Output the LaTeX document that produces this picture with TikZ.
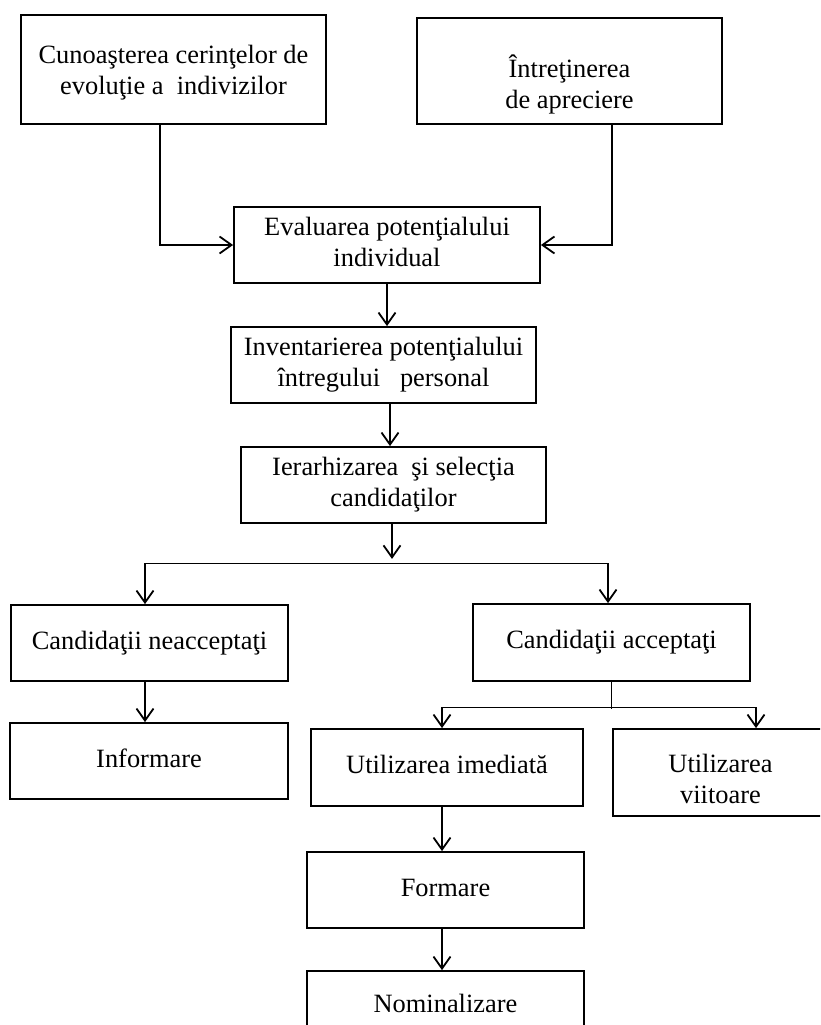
\documentclass[tikz,border=0pt]{standalone}
\usepackage{fontspec}
\setmainfont{Liberation Serif}
\usetikzlibrary{arrows.meta,calc}
\newcommand\liftline[1]{\rule{0pt}{#1}}
\newcommand\sinkline[1]{\rule[-#1]{0pt}{#1}}
\begin{document}
\begin{tikzpicture}[x=1pt,y=-1pt,
  box/.style={draw, line width=1.8pt, rectangle, inner sep=0pt, align=center,
    font=\fontsize{26.4}{31}\selectfont},
  wide/.style={minimum width=305pt, minimum height=76pt},
  mid/.style={minimum width=277pt, minimum height=76pt},
  arr/.style={line width=1.8pt, -{Straight Barb[length=12pt,width=17pt]}},
  thinline/.style={line width=1pt}]
\useasboundingbox (0,0) rectangle (820,1025);
\clip (0,0) rectangle (820,1025);

% boxes
\node[box, wide, minimum height=109pt] (A) at (173.5,69.5)
  {\liftline{27.3pt}Cunoaşterea cerinţelor de\strut\\evoluţie a~ indivizilor\strut};
\node[box, wide, minimum height=106pt] (B) at (569.5,71)
  {\liftline{52.3pt}Întreţinerea\strut\\de apreciere\strut};
\node[box, wide, minimum width=306pt] (C) at (387,245)
  {Evaluarea potenţialului\strut\\individual\strut};
\node[box, wide] (D) at (383.5,365)
  {Inventarierea potenţialului\strut\\întregului~~ personal\strut};
\node[box, wide] (E) at (393.5,485)
  {Ierarhizarea~ şi selecţia\strut\\candidaţilor\strut};
\node[box, mid] (F) at (149.5,643) {Candidaţii neacceptaţi\strut};
\node[box, mid, minimum height=77pt] (G) at (611.5,642.5) {Candidaţii acceptaţi\strut};
\node[box, mid, minimum width=278pt] (H) at (149,761) {Informare\strut};
\node[box, mid, minimum width=272pt, minimum height=77pt] (I) at (447,767.5) {Utilizarea imediată\strut};
\node[box, minimum width=215pt, minimum height=87pt] (J) at (720.5,772.5)
  {\liftline{39.3pt}Utilizarea\strut\\viitoare\strut};
\node[box, mid] (K) at (445.5,890) {Formare\strut};
\node[box, mid, minimum height=79pt] (L) at (445.5,1010.5) {Nominalizare\strut\sinkline{18.7pt}};

% connectors into C
\draw[arr] ($(A.south west)+(140,0)$) |- (C.west);
\draw[arr] ($(B.south east)+(-111,0)$) |- (C.east);
\draw[arr] (C.south) -- (C.south |- D.north);
\draw[arr] ($(D.south)+(6.5,0)$) -- ($(E.north)+(-3.5,0)$);

% first fork
\coordinate (ef) at ($(E.south)+(-1.5,35)$);
\draw[arr] (E.south -| ef) -- (ef);
\coordinate (fl) at ($(F.north)+(-4.5,-41)$);
\coordinate (fr) at ($(G.north)+(-3.5,-40)$);
\draw[thinline] (fl) -- (fr);
\draw[arr] (fl) -- (fl |- F.north);
\draw[arr] (fr) -- (fr |- G.north);

% left branch
\draw[arr] ($(F.south)+(-4.5,0)$) -- ($(H.north)+(-4,0)$);

% second fork
\coordinate (gm) at ($(G.south)+(0,27)$);
\coordinate (gl) at ($(I.north)+(-5,-21)$);
\coordinate (gr) at ($(J.north)+(35.5,-21)$);
\draw[thinline] (G.south) -- (gm);
\draw[thinline] (gl) -- (gr);
\draw[arr] (gl) -- (gl |- I.north);
\draw[arr] (gr) -- (gr |- J.north);

% lower chain
\draw[arr] ($(I.south)+(-5,0)$) -- ($(K.north)+(-3.5,0)$);
\draw[arr] ($(K.south)+(-3.5,0)$) -- ($(L.north)+(-3.5,0)$);
\end{tikzpicture}
\end{document}
